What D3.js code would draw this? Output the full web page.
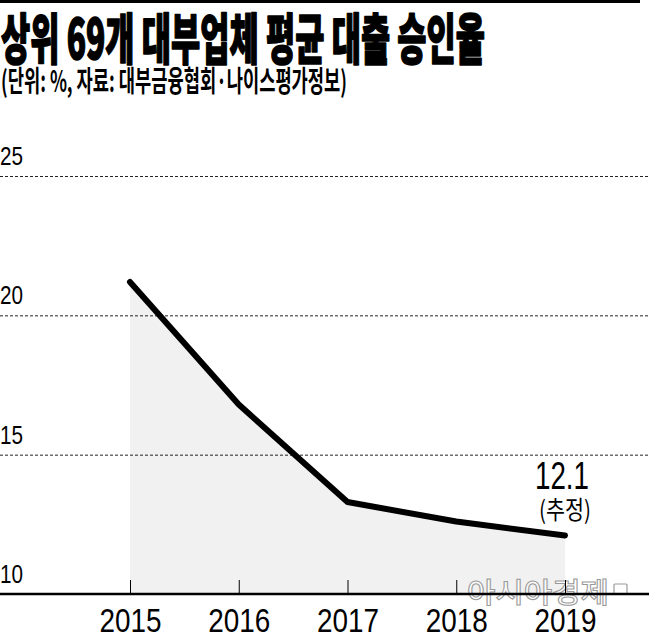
<!DOCTYPE html>
<html><head><meta charset="utf-8">
<script src="https://cdn.jsdelivr.net/npm/d3@7/dist/d3.min.js"></script>
<style>html,body{margin:0;padding:0;background:#fff;}svg{display:block;}</style>
</head><body>
<svg id="c" width="649" height="635"></svg>
<script>
const titleText = "상위 69개 대부업체 평균 대출 승인율";
const subtitleText = "(단위: %, 자료: 대부금융협회·나이스평가정보)";
const years = [2015, 2016, 2017, 2018, 2019];
const rates = [21.2, 16.8, 13.3, 12.6, 12.1];
const yTicks = [10, 15, 20, 25];
const lastLabel = "12.1";
const lastNote = "(추정)";
const watermark = "아시아경제";

const svg = d3.select("#c");
const W = 649, H = 635;
const x = d3.scaleLinear().domain([2015, 2019]).range([130, 565]);
const y = d3.scaleLinear().domain([10, 25]).range([594, 176]);
const kr = "'Noto Sans CJK KR', 'Noto Sans', sans-serif";
const num = "'Liberation Sans', Arial, sans-serif";

// top bar
svg.append("rect").attr("x", 0).attr("y", 0).attr("width", 640).attr("height", 3).attr("fill", "#000");

// title
svg.append("text").attr("x", 1).attr("y", 59)
  .attr("font-family", kr).attr("font-weight", 900).attr("font-size", 55)
  .attr("textLength", 484).attr("lengthAdjust", "spacingAndGlyphs")
  .attr("fill", "#000").attr("stroke", "#000").attr("stroke-width", 1.6).attr("stroke-linejoin", "round")
  .text(titleText);
svg.append("text").attr("x", 1).attr("y", 92)
  .attr("font-family", kr).attr("font-weight", 700).attr("font-size", 29)
  .attr("textLength", 346).attr("lengthAdjust", "spacingAndGlyphs")
  .attr("fill", "#000").text(subtitleText);

// area
const area = d3.area().x((d, i) => x(years[i])).y0(y(10)).y1(d => y(d));
svg.append("path").datum(rates).attr("d", area).attr("fill", "#f1f1f1");

// gridlines
svg.append("g").selectAll("line").data(yTicks.filter(t => t > 10)).join("line")
  .attr("x1", 0).attr("x2", W).attr("y1", d => y(d) + 0.5).attr("y2", d => y(d) + 0.5)
  .attr("stroke", "#222").attr("stroke-width", 1).attr("stroke-dasharray", "3,2");

// y labels
svg.append("g").selectAll("text").data(yTicks).join("text")
  .attr("x", 0).attr("y", d => y(d) - 11)
  .attr("font-family", num).attr("font-size", 25)
  .attr("textLength", 23).attr("lengthAdjust", "spacingAndGlyphs")
  .attr("fill", "#000").text(d => d);

// watermark (behind axis labels)
svg.append("text").attr("x", 467).attr("y", 603)
  .attr("font-family", kr).attr("font-size", 28).attr("font-weight", 500)
  .attr("textLength", 142).attr("lengthAdjust", "spacingAndGlyphs")
  .attr("fill", "rgba(255,255,255,0.75)").attr("stroke", "#999").attr("stroke-width", 1).text(watermark);
svg.append("rect").attr("x", 614).attr("y", 584).attr("width", 13).attr("height", 10)
  .attr("fill", "rgba(255,255,255,0.75)").attr("stroke", "#999").attr("stroke-width", 1.2).attr("rx", 1);

// x axis
const xAxis = d3.axisBottom(x).tickValues(years).tickSize(0).tickFormat(d3.format("d"));
const gx = svg.append("g").attr("transform", `translate(0,${y(10)})`).call(xAxis);
gx.select(".domain").remove();
gx.append("line").attr("x1", 0).attr("x2", W).attr("y1", 0).attr("y2", 0).attr("stroke", "#000").attr("stroke-width", 2.5);
gx.selectAll(".tick").append("line").attr("y1", 0).attr("y2", -14).attr("stroke", "#000").attr("stroke-width", 1);
gx.selectAll(".tick text").attr("y", 38).attr("dy", 0)
  .attr("font-family", num).attr("font-size", 33).attr("fill", "#000")
  .attr("textLength", 62).attr("lengthAdjust", "spacingAndGlyphs");

// line
const line = d3.line().x((d, i) => x(years[i])).y(d => y(d));
svg.append("path").datum(rates).attr("d", line).attr("fill", "none")
  .attr("stroke", "#000").attr("stroke-width", 6).attr("stroke-linejoin", "round").attr("stroke-linecap", "round");

// annotation
const lx = x(years[years.length - 1]) - 2;
svg.append("text").attr("x", lx - 28).attr("y", 489)
  .attr("font-family", num).attr("font-size", 38).attr("fill", "#000")
  .attr("textLength", 54).attr("lengthAdjust", "spacingAndGlyphs").text(lastLabel);
svg.append("text").attr("x", lx - 24).attr("y", 519)
  .attr("font-family", kr).attr("font-size", 25).attr("fill", "#000")
  .attr("textLength", 52).attr("lengthAdjust", "spacingAndGlyphs").text(lastNote);
</script>
</body></html>
